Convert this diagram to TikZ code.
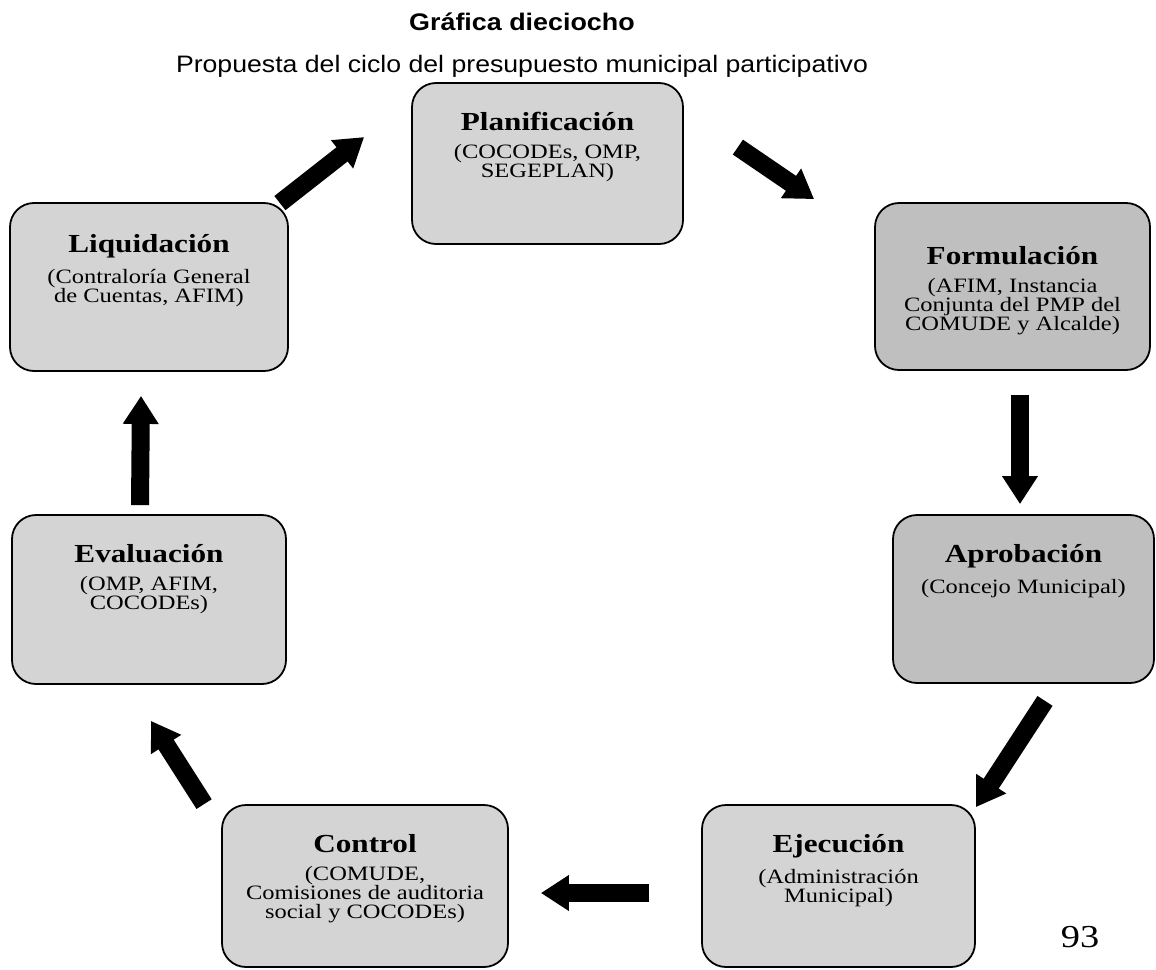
\documentclass[tikz,border=0pt]{standalone}
\usepackage{fontspec}
\setmainfont{Liberation Serif}[FakeStretch=1.2]
\setsansfont{Liberation Sans}[FakeStretch=1.12]
\usepackage{tikz}
\usetikzlibrary{arrows.meta,positioning}

\begin{document}
\begin{tikzpicture}[
  x=0.5pt, y=-0.5pt,
  stage/.style={draw, line width=0.9pt, rounded corners=12pt, fill=black!17},
  stagedark/.style={stage, fill=black!25},
  stagetext/.style={align=center, inner sep=0pt, font=\fontsize{10.2}{9.5}\selectfont},
  flow/.style={line width=9pt, -{Triangle[length=14pt,width=17pt]}}
]
\fill[white] (0,0) rectangle (1156,969);
\useasboundingbox (0,0) rectangle (1156,969);

% titulo
\node[font=\sffamily\bfseries\fontsize{12}{14}\selectfont] (titulo) at (522,22) {Gráfica dieciocho};
\node[font=\sffamily\fontsize{11.9}{13}\selectfont, below=5pt of titulo] (subtitulo) {Propuesta del ciclo del presupuesto municipal participativo};

% etapas del ciclo
\node[stage, minimum width=135.5pt, minimum height=80.5pt] (plan) at (547.5,163.5) {};
\node[stagedark, minimum width=137.5pt, minimum height=83.5pt] (form) at (1012.5,286.5) {};
\node[stagedark, minimum width=130.5pt, minimum height=84pt] (apro) at (1023.5,599) {};
\node[stage, minimum width=136.5pt, minimum height=81pt] (ejec) at (838.5,886) {};
\node[stage, minimum width=143pt, minimum height=81pt] (ctrl) at (365,886) {};
\node[stage, minimum width=137pt, minimum height=84.5pt] (eval) at (149,599.5) {};
\node[stage, minimum width=139pt, minimum height=84pt] (liq) at (149,287) {};

\node[stagetext, below=15pt of plan.north] (plantxt) {{\fontsize{13}{14}\selectfont\bfseries Planificación}\\[4.5pt](COCODEs, OMP,\\SEGEPLAN)};
\node[stagetext, below=22pt of form.north] (formtxt) {{\fontsize{13}{14}\selectfont\bfseries Formulación}\\[4.5pt](AFIM, Instancia\\Conjunta del PMP del\\COMUDE y Alcalde)};
\node[stagetext, below=15pt of apro.north] (aprotxt) {{\fontsize{13}{14}\selectfont\bfseries Aprobación}\\[4.5pt](Concejo Municipal)};
\node[stagetext, below=15pt of ejec.north] (ejectxt) {{\fontsize{13}{14}\selectfont\bfseries Ejecución}\\[4.5pt](Administración\\Municipal)};
\node[stagetext, below=15pt of ctrl.north] (ctrltxt) {{\fontsize{13}{14}\selectfont\bfseries Control}\\[4.5pt](COMUDE,\\Comisiones de auditoria\\social y COCODEs)};
\node[stagetext, below=15pt of eval.north] (evaltxt) {{\fontsize{13}{14}\selectfont\bfseries Evaluación}\\[4.5pt](OMP, AFIM,\\COCODEs)};
\node[stagetext, below=16pt of liq.north] (liqtxt) {{\fontsize{13}{14}\selectfont\bfseries Liquidación}\\[4.5pt](Contraloría General\\de Cuentas, AFIM)};

\node[font=\fontsize{16}{18}\selectfont] (pagina) at (1080,937) {93};

% flechas
\draw[flow] ([shift={(-9,1)}]liq.north east) -- ([shift={(-47,55)}]plan.north west);
\draw[flow] ([shift={(54,65)}]plan.north east) -- ([shift={(-60,-3)}]form.north west);
\draw[flow] ([shift={(7.5,24)}]form.south) -- ([shift={(-3.5,-10)}]apro.north);
\draw[flow] ([shift={(21.5,17)}]apro.south) -- ([shift={(0,3)}]ejec.north east);
\draw[flow] ([shift={(-52,7)}]ejec.west) -- ([shift={(32,7)}]ctrl.east);
\draw[flow] ([shift={(-17,0)}]ctrl.north west) -- ([shift={(2,36)}]eval.south);
\draw[flow] ([shift={(-9,-9)}]eval.north) -- ([shift={(-8,24)}]liq.south);
\end{tikzpicture}
\end{document}
